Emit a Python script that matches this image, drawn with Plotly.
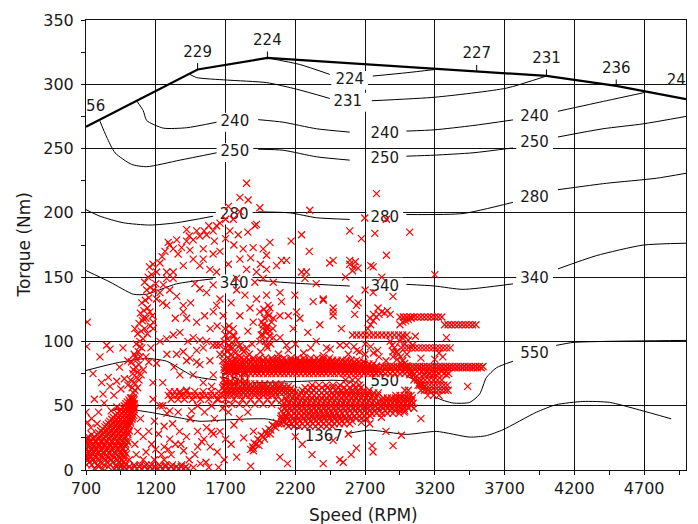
import plotly.graph_objects as go
import numpy as np

# ---------------- axes ----------------
X_TICKS = [700, 1200, 1700, 2200, 2700, 3200, 3700, 4200, 4700]
Y_TICKS = [0, 50, 100, 150, 200, 250, 300, 350]
X_RANGE = [700, 5000]
Y_RANGE = [0, 350]

# ---------------- full-load torque curve ----------------
WOT_SPEED = [700, 1500, 2000, 4000, 4500, 5000]
WOT_TORQUE = [267, 311.5, 320.5, 306.5, 298.7, 288.5]
WOT_LABEL_SPEED = [735, 1500, 2000, 3500, 4000, 4500, 4965]
WOT_LABEL_TEXT = ["256", "229", "224", "227", "231", "236", "241"]
WOT_TICK_SPEED = [1500, 2000, 3500, 4000, 4500]

# ---------------- BSFC contour lines (segments between labels) ----------------
BSFC_224 = [[(2000, 320.5), (2232, 315.4), (2447, 307.7)],
            [(2755, 306.4), (3000, 309), (3199, 311.5)]]
BSFC_231 = [[(1445, 307.7), (1493, 305.2), (1707, 303.3), (1994, 301.3), (2209, 296.2), (2447, 289)],
            [(2748, 287.2), (3206, 290), (3713, 297), (3999, 306.4)]]
BSFC_240 = [[(1063, 287.2), (1110, 279.5), (1135, 271.8), (1254, 265.9), (1421, 266.2), (1636, 270.5)],
            [(1934, 272.5), (2113, 270.5), (2352, 265.4), (2590, 262.8)],
            [(2996, 263.6), (3199, 264.6), (3473, 267.9), (3760, 272.3)],
            [(4082, 279), (4429, 287.2), (4703, 293.6)]]
BSFC_250 = [[(800, 271.3), (848, 259), (908, 246.7), (1027, 237.7), (1135, 235.9), (1373, 241), (1636, 246.7)],
            [(1934, 249.5), (2113, 248.7), (2352, 243.6), (2590, 241)],
            [(2996, 244.1), (3199, 244.9), (3473, 246.7), (3760, 250.5)],
            [(4082, 259), (4405, 265.4), (4691, 269.2), (5000, 275)]]
BSFC_280 = [[(700, 202.5), (800, 197.4), (967, 192.3), (1158, 190.5), (1349, 192.3), (1611, 197.4)],
            [(1934, 200.8), (2161, 200), (2352, 196.2), (2590, 194.9)],
            [(2996, 198.7), (3402, 199.5), (3760, 208.2)],
            [(4082, 218), (4429, 223), (4787, 226.9), (5000, 230.8)]]
BSFC_340 = [[(700, 155.1), (872, 146.2), (1039, 136.7), (1135, 136.7), (1349, 144.8), (1611, 148.7)],
            [(1934, 147.5), (2184, 145.4), (2590, 143.1)],
            [(2996, 144.4), (3199, 143.1), (3402, 140.5), (3760, 144.8)],
            [(4082, 156.4), (4357, 166.7), (4691, 174.9), (5000, 176.4)]]
BSFC_550 = [[(700, 77.4), (920, 83.3), (1135, 86.7), (1278, 84.6), (1468, 73.1), (1636, 70)],
            [(1898, 67.9), (2184, 68.7), (2471, 69.8), (2614, 69)],
            [(2996, 73.1), (3115, 66.7), (3211, 56.4), (3330, 52.1), (3450, 52.6), (3521, 59),
             (3569, 71.8), (3641, 79.5), (3760, 84.6)],
            [(4070, 96.9), (4190, 99.2), (4405, 100), (5000, 100.8)]]
BSFC_1367 = [[(872, 46.2), (967, 47.5), (1158, 44.9), (1373, 40.5), (1516, 37.9), (1707, 39),
              (1994, 39.7), (2137, 35.9), (2232, 32)],
             [(2567, 28.2), (2734, 31), (2996, 27.7), (3211, 30), (3450, 25.6), (3569, 26.7),
              (3688, 31.3), (3927, 44.9), (4070, 50.8), (4261, 53.3), (4452, 52.6), (4667, 46.7), (4894, 39.8)]]

BSFC_LABEL_TEXT = ["224", "231",
                   "240", "240", "240",
                   "250", "250", "250",
                   "280", "280", "280",
                   "340", "340", "340",
                   "550", "550", "550",
                   "1367"]
BSFC_LABEL_SPEED = [2590, 2576,
                    1767, 2841, 3915,
                    1767, 2841, 3915,
                    1762, 2841, 3915,
                    1762, 2841, 3915,
                    1767, 2841, 3915,
                    2404]
BSFC_LABEL_TORQUE = [303, 286,
                     270.5, 261.5, 274.4,
                     246.9, 241.5, 253.8,
                     198.2, 195.6, 211,
                     144.8, 142.3, 148.7,
                     68.7, 67.9, 89.8,
                     25.1]

# ---------------- measured operating points ----------------
IDLE_ROWS = [
    (1, [760, 820, 905, 935, 962, 990, 1030, 1065, 1100, 1140, 1175, 1215, 1250, 1290, 1330, 1365, 1400, 1430]),
    (2.5, [790, 860, 918, 948, 975, 1010, 1048, 1082, 1120, 1158, 1195, 1232, 1270, 1310, 1348, 1382, 1415]),
    (4, [705, 742, 783, 830, 872, 915, 952, 985, 1045, 1090, 1130, 1170, 1225, 1270, 1320, 1385]),
    (6, [722, 762, 805, 850, 893, 935, 968]),
    (8, [715, 752, 795, 840, 880, 925, 958, 1010, 1110, 1190, 1260]),
    (9.5, [700, 732, 772, 818, 860, 902, 942, 975]),
    (11, [700, 730, 765, 805, 850, 890, 935, 970]),
    (12.5, [715, 748, 785, 828, 870, 912, 952, 990]),
    (14, [720, 755, 790, 825, 865, 905, 945, 980]),
    (15.5, [700, 738, 772, 808, 845, 885, 925, 962]),
    (17, [700, 740, 775, 815, 855, 895, 930, 965]),
    (18.5, [720, 758, 795, 835, 875, 912, 948, 982]),
    (20, [715, 750, 790, 830, 870, 910, 950, 985]),
    (21.5, [700, 732, 770, 810, 850, 890, 930, 968, 1000]),
    (23, [700, 730, 770, 810, 845, 885, 925, 960, 995]),
    (24.5, [712, 750, 790, 828, 865, 905, 942, 978]),
    (26, [715, 760, 800, 840, 875, 915, 950, 985]),
    (27.5, [740, 780, 820, 858, 895, 932, 968, 1000]),
    (29, [790, 830, 865, 900, 935, 970, 1000]),
    (30.5, [805, 845, 882, 918, 952, 985, 1010]),
    (32, [820, 855, 890, 925, 960, 995]),
    (33.5, [835, 872, 908, 942, 975, 1005]),
    (35, [845, 880, 915, 945, 980, 1010]),
    (36.5, [860, 895, 930, 962, 995, 1020]),
    (38, [870, 905, 935, 965, 995, 1020]),
    (39.5, [885, 920, 950, 980, 1008, 1030]),
    (41, [895, 930, 960, 990, 1015, 1035]),
    (42.5, [912, 945, 975, 1002, 1025, 1042]),
    (44, [925, 955, 985, 1010, 1030]),
    (45.5, [940, 970, 998, 1020, 1040]),
    (47, [950, 980, 1005, 1025, 1045]),
    (48.5, [962, 992, 1015, 1035, 1050]),
    (50, [975, 1000, 1020, 1040]),
    (51.5, [985, 1010, 1030, 1048]),
    (53, [995, 1015, 1035]),
    (54.5, [1008, 1028, 1045]),
    (56, [1020, 1040]),
]

SPARSE_LOW = [(705, 96), (848, 97), (872, 94), (812, 68), (872, 65), (920, 69), (822, 59), (920, 49), (709, 115),
              (760, 55), (790, 45), (740, 40), (780, 36), (700, 45), (830, 52), (860, 72), (750, 75), (880, 46),
              (900, 58), (950, 63), (975, 71), (940, 80), (1000, 85), (965, 95), (800, 88), (735, 33), (710, 37),
              (1060, 12), (1050, 20), (1070, 30), (1130, 14), (1170, 20), (1200, 16), (1240, 12), (1090, 40),
              (1110, 26), (1150, 30), (1190, 38), (1220, 28), (1260, 34), (1300, 24), (1280, 44), (1340, 20),
              (1320, 36), (1370, 30), (1400, 15), (1420, 26), (1450, 40), (1480, 12), (1500, 30), (1530, 22),
              (1560, 6), (1590, 18), (1620, 40), (1640, 14), (1660, 30), (1690, 8), (1700, 24), (1720, 45),
              (1740, 20), (1760, 35), (1780, 10), (1800, 40), (1830, 25), (1860, 45), (1880, 3), (1900, 30),
              (1440, 8), (1470, 2), (1360, 45), (1230, 50), (1180, 55), (1290, 16), (1310, 12), (1260, 18),
              (1380, 20), (1500, 18), (1545, 24), (1600, 30), (1650, 2), (1580, 2), (1520, 5),
              (1206, 83), (1445, 87), (1493, 84), (1397, 92), (1564, 100), (1373, 74), (1612, 74), (1636, 97),
              (1349, 90), (1421, 85), (1468, 74), (1516, 82), (1540, 95), (1493, 93), (1588, 85), (1660, 90),
              (1421, 62), (1373, 60), (1457, 46), (1445, 40), (1564, 33), (1612, 28), (1250, 68), (1280, 90),
              (1330, 80), (1230, 100), (1180, 68), (1250, 50), (1300, 46), (1500, 50), (1550, 45), (1600, 50),
              (1650, 55), (1680, 48), (1540, 68), (1600, 65), (1680, 64)]

COLUMN_PTS = [(1010, 50), (1025, 56), (1040, 60), (1030, 64), (1050, 62), (1045, 68), (1060, 72), (1035, 75),
              (1070, 76), (1055, 80), (1080, 82), (1065, 86), (1090, 88), (1045, 90), (1075, 92), (1100, 95),
              (1060, 98), (1085, 100), (1110, 102), (1070, 106), (1095, 108), (1120, 110), (1080, 114),
              (1105, 116), (1130, 118), (1090, 122), (1115, 124), (1140, 126), (1100, 130), (1125, 132),
              (1150, 134), (1135, 140), (1160, 142), (1120, 146), (1145, 150), (1170, 152), (1155, 158),
              (1180, 160), (1165, 95), (1130, 88), (1150, 84), (1020, 70), (1000, 66), (1110, 78), (1025, 84),
              (1140, 106), (1160, 112), (1050, 110), (1175, 120), (1185, 140), (1040, 78), (1055, 88),
              (1080, 70), (1095, 74), (1070, 64), (1085, 96)]

ARCH_PTS = [(1230, 161), (1266, 170), (1325, 172), (1385, 173), (1421, 178), (1468, 179), (1516, 182),
            (1564, 183), (1611, 186), (1636, 190), (1660, 192), (1421, 187), (1493, 186), (1547, 186),
            (1289, 177), (1350, 179), (1206, 154), (1278, 154), (1278, 149), (1325, 149), (1254, 144),
            (1230, 138), (1206, 133), (1325, 154), (1397, 159), (1468, 164), (1540, 164), (1611, 168),
            (1516, 159), (1588, 156), (1636, 154), (1540, 172), (1445, 171), (1158, 123), (1182, 115),
            (1182, 110), (1110, 118), (1278, 128), (1397, 128), (1397, 123), (1421, 118), (1493, 115),
            (1612, 123), (1636, 128), (1564, 138), (1516, 141), (1611, 144), (1660, 133), (1683, 120),
            (1325, 105), (1373, 107), (1278, 102), (1516, 101), (1611, 97), (1660, 97), (1468, 103),
            (1245, 166), (1300, 175), (1360, 168), (1440, 182), (1580, 190), (1620, 178), (1660, 170),
            (1700, 180), (1250, 130), (1300, 140), (1350, 135), (1450, 130), (1480, 145), (1550, 120),
            (1590, 110), (1640, 112), (1200, 145), (1340, 118), (1430, 100)]

MID_PTS = [(1851, 223), (1803, 212), (1862, 210), (1946, 204), (1803, 201), (1755, 195), (1731, 186),
           (1791, 183), (1910, 190), (1922, 191), (1826, 172), (1898, 173), (1970, 172), (2018, 177),
           (1994, 167), (1803, 164), (1851, 156), (1922, 154), (1994, 156), (2066, 159), (2101, 163),
           (1779, 149), (1910, 146), (1970, 149), (2042, 146), (1839, 136), (1922, 133), (1994, 136),
           (2090, 138), (2101, 131), (1875, 126), (1946, 123), (2018, 126), (2090, 120), (1898, 115),
           (1970, 113), (2042, 118), (1994, 110), (2018, 108), (1970, 105), (2042, 103), (1946, 100),
           (2090, 103), (1994, 97), (1803, 120), (1755, 105), (1803, 97), (1731, 95), (1755, 110),
           (1960, 115), (1980, 118), (2000, 112), (2010, 120), (2030, 115), (1990, 108), (2015, 104),
           (1975, 125), (2005, 128), (2040, 110), (1955, 105), (2025, 98), (1985, 100), (2000, 122),
           (1965, 110), (1720, 160), (1760, 175), (1860, 185), (1880, 165), (1950, 160), (1740, 130),
           (1780, 140), (1860, 108), (1890, 98), (1720, 205), (1700, 195)]

UPPER_PTS = [(2137, 163), (2245, 183), (2304, 202), (2245, 154), (2269, 149), (2197, 136), (2209, 123),
             (2233, 118), (2185, 110), (2137, 97), (2328, 131), (2400, 133), (2447, 161), (2471, 163),
             (2471, 126), (2471, 120), (2376, 113), (2424, 95), (2567, 97), (2782, 215), (2590, 186),
             (2674, 180), (2770, 184), (3020, 185), (2853, 167), (2758, 158), (2590, 163), (2590, 160),
             (2620, 158), (2650, 157), (3200, 152), (2698, 196), (2853, 195), (2590, 133), (2650, 130),
             (2626, 121), (2758, 138), (2793, 126), (2280, 154), (2400, 132), (2471, 123), (2638, 128),
             (2741, 159), (2610, 155), (2630, 162), (2560, 150), (2170, 178), (2300, 170), (2350, 145),
             (2150, 120), (2290, 107), (2530, 110), (2700, 140), (2820, 150), (2900, 135)]

BAND_A_ROWS = [
    (75, [1700, 1730, 1762, 1790, 1822, 1850, 1880, 1912, 1940, 1970, 2002, 2030, 2060, 2092, 2120, 2150, 2182,
          2210, 2240, 2272, 2300, 2330, 2362, 2390, 2420, 2452, 2480, 2510, 2542, 2570, 2600, 2632, 2660, 2690,
          2722, 2750, 2780, 2810, 2845, 2880, 2915, 2950, 2985, 3020, 3055, 3090, 3125, 3160, 3195, 3230, 3265, 3300]),
    (76.5, [1715, 1745, 1778, 1805, 1838, 1865, 1898, 1925, 1955, 1988, 2015, 2048, 2075, 2108, 2135, 2165, 2198,
            2225, 2258, 2285, 2318, 2345, 2378, 2405, 2438, 2465, 2498, 2525, 2558, 2585, 2618, 2645, 2678, 2705,
            2738, 2765, 2795, 2828, 2862, 2898, 2932, 2968, 3002, 3038, 3072, 3108, 3142, 3178, 3212, 3248, 3282]),
    (78, [1690, 1718, 1745, 1776, 1805, 1835, 1865, 1895, 1925, 1955, 1985, 2015, 2045, 2075, 2105, 2135, 2165,
          2195, 2225, 2255, 2285, 2315, 2345, 2375, 2405, 2435, 2465, 2495, 2525, 2555, 2585, 2615, 2645, 2675,
          2705, 2735, 2765, 2795]),
    (79.5, [1705, 1732, 1760, 1790, 1820, 1850, 1880, 1910, 1940, 1970, 2000, 2030, 2060, 2090, 2120, 2150, 2180,
            2210, 2240, 2270, 2300, 2330, 2360, 2390, 2420, 2450, 2480, 2510, 2540, 2570, 2600, 2630, 2660, 2690,
            2720, 2750, 2780, 2810, 2838, 2865, 2892, 2918, 2945, 2972, 2998, 3025, 3052, 3078, 3105, 3132, 3158,
            3185, 3212, 3238, 3265, 3292, 3318, 3345, 3372, 3398, 3425, 3452, 3478, 3505, 3532]),
    (80.5, [2825, 2850, 2878, 2905, 2930, 2958, 2985, 3010, 3038, 3065, 3090, 3118, 3145, 3170, 3198, 3225, 3250,
            3278, 3305, 3330, 3358, 3385, 3410, 3438, 3465, 3490, 3518, 3545]),
    (81, [1700, 1732, 1760, 1792, 1820, 1850, 1882, 1910, 1940, 1972, 2000, 2030, 2062, 2090, 2120, 2152, 2180,
          2210, 2242, 2270, 2300, 2332, 2360, 2390, 2422, 2450, 2480, 2512, 2540, 2570, 2602, 2630, 2660, 2692,
          2720, 2750, 2782]),
    (82.5, [1710, 1745, 1775, 1805, 1838, 1868, 1898, 1928, 1958, 1990, 2020, 2050, 2082, 2112, 2142, 2175, 2205,
            2235, 2265, 2298, 2328, 2358, 2390, 2420, 2450, 2482, 2512, 2542, 2575, 2605, 2635, 2668, 2698, 2728,
            2760]),
    (84, [1715, 1748, 1780, 1812, 1845, 1878, 1910, 1942, 1975, 2008, 2040, 2072, 2105, 2138, 2170, 2202, 2235,
          2268, 2300, 2332, 2365, 2398, 2430, 2462, 2495, 2528, 2560, 2592, 2625, 2658, 2690]),
    (85.5, [1730, 1768, 1800, 1835, 1868, 1900, 1935, 1968, 2000, 2035, 2068, 2100, 2135, 2168, 2200, 2235, 2268,
            2300, 2335, 2368, 2400, 2435, 2468, 2500, 2535, 2568, 2600, 2640]),
    (87, [1720, 1765, 1810, 1850, 1898, 1940, 1985, 2030, 2075, 2120, 2170, 2215, 2260, 2310, 2355, 2400, 2445]),
]

COL_1700_PTS = [(1690, 90), (1712, 92), (1740, 90), (1770, 91), (1800, 89), (1830, 92), (1700, 95), (1725, 97),
                (1752, 95), (1790, 96), (1820, 94), (1690, 100), (1715, 102), (1745, 99), (1780, 101),
                (1700, 105), (1730, 107), (1760, 104), (1695, 110), (1725, 112), (1850, 95), (1870, 90),
                (1680, 85), (1690, 80), (1685, 70), (1690, 62), (1950, 92), (2000, 95), (2080, 90), (2150, 93),
                (2200, 98), (2260, 91), (2310, 95), (2350, 100), (2400, 89), (2450, 94), (2520, 97), (2580, 90),
                (2640, 93), (2700, 98), (2760, 91)]

BAND_B_ROWS = [
    (60.5, [1712, 1742, 1770, 1800, 1830, 1858, 1888, 1915, 1945, 1972, 2002, 2030, 2060, 2088, 2118, 2145, 2175]),
    (62, [1700, 1728, 1757, 1785, 1815, 1843, 1872, 1900, 1930, 1958, 1987, 2015, 2045, 2073, 2102, 2130, 2160, 2188]),
    (63.5, [1705, 1735, 1763, 1792, 1822, 1850, 1880, 1908, 1938, 1965, 1995, 2023, 2052, 2080, 2110, 2138, 2168]),
    (65, [1690, 1718, 1747, 1776, 1805, 1833, 1862, 1891, 1920, 1948, 1977, 2006, 2035, 2063, 2092, 2121, 2150]),
    (67, [1700, 1730, 1760, 1790, 1820, 1850, 1880, 1910, 1945, 1980, 2020, 2060, 2100]),
    (69, [1700, 1735, 1770, 1805, 1840]),
]

BAND_C_ROWS = [
    (58, [1290, 1320, 1352, 1380, 1412, 1440, 1472, 1500, 1532, 1560, 1592, 1620, 1652, 1680, 1712, 1745, 1778,
          1810, 1842, 1875, 1908, 1940, 1972, 2005, 2038, 2070]),
    (55, [1310, 1360, 1405, 1462, 1520, 1580, 1640, 1700, 1760, 1820, 1880, 1940, 2000, 2060]),
    (61, [1300, 1335, 1372, 1420, 1480, 1540, 1598, 1650]),
    (51, [1700, 1745, 1800, 1850, 1910, 1970, 2030]),
]

BLOB_D_ROWS = [
    (34, [2150, 2190, 2228, 2268, 2305, 2345, 2385, 2425, 2465]),
    (36, [2135, 2172, 2210, 2250, 2288, 2325, 2365, 2402, 2440, 2480, 2515, 2550, 2590]),
    (38, [2120, 2158, 2195, 2232, 2270, 2308, 2345, 2382, 2420, 2458, 2495, 2532, 2570, 2608]),
    (40, [2110, 2148, 2185, 2222, 2260, 2298, 2335, 2372, 2410, 2448, 2485, 2522, 2560, 2598, 2635, 2672, 2710]),
    (42, [2100, 2137, 2175, 2212, 2250, 2287, 2325, 2362, 2400, 2437, 2475, 2512, 2550, 2587, 2625, 2662, 2700, 2737]),
    (44, [2118, 2152, 2188, 2222, 2258, 2292, 2328, 2362, 2398, 2432, 2468, 2502, 2538, 2572, 2608, 2642, 2678,
          2712, 2748, 2782]),
    (46, [2100, 2135, 2170, 2205, 2240, 2275, 2310, 2345, 2380, 2415, 2450, 2485, 2520, 2555, 2590, 2625, 2660,
          2695, 2730, 2765, 2800]),
    (48, [2128, 2162, 2198, 2232, 2268, 2302, 2338, 2372, 2408, 2442, 2478, 2512, 2548, 2582, 2618, 2652, 2688,
          2722, 2758, 2792]),
    (50, [2110, 2145, 2180, 2215, 2250, 2285, 2320, 2355, 2390, 2425, 2460, 2495, 2530, 2565, 2600, 2635, 2670,
          2705, 2740, 2775, 2810]),
    (52, [2118, 2152, 2188, 2222, 2258, 2292, 2328, 2362, 2398, 2432, 2468, 2502, 2538, 2572, 2608, 2642, 2678,
          2712, 2748, 2782]),
    (54, [2100, 2135, 2170, 2205, 2240, 2275, 2310, 2345, 2380, 2415, 2450, 2485, 2520, 2555, 2590, 2625, 2660,
          2695, 2730, 2765, 2800]),
    (56, [2130, 2178, 2212, 2248, 2282, 2318, 2352, 2388, 2422, 2458, 2492, 2528, 2562, 2598, 2632, 2668, 2702,
          2738, 2772]),
    (58, [2160, 2195, 2230, 2265, 2300, 2335, 2370, 2405, 2440, 2475, 2510, 2545, 2580, 2615, 2650, 2685, 2720,
          2755, 2790]),
    (60, [2200, 2240, 2280, 2318, 2352, 2390, 2428, 2465, 2500, 2538, 2575, 2612, 2650, 2688, 2725, 2762, 2795]),
    (62, [2250, 2290, 2330, 2370, 2410, 2450, 2490, 2530, 2570, 2610, 2650, 2690, 2730]),
    (64, [2270, 2310, 2350, 2390, 2430, 2470, 2510, 2550, 2590, 2630, 2670]),
    (66, [2320, 2370, 2420, 2470, 2520, 2570, 2620, 2660]),
    (70, [2560, 2610, 2650]),
]

BAND_E_ROWS = [
    (44, [2820, 2860, 2900, 2945]),
    (46, [2845, 2880, 2915, 2950, 2985]),
    (48, [2830, 2860, 2890, 2920, 2950, 2980, 3010]),
    (50, [2820, 2850, 2880, 2910, 2940, 2970, 3000, 3030]),
    (52, [2840, 2870, 2900, 2930, 2960, 2990, 3020, 3045]),
    (54, [2825, 2855, 2885, 2915, 2945, 2975, 3005, 3035]),
    (56, [2830, 2860, 2890, 2920, 2950, 2980, 3010, 3040]),
    (58, [2920, 2950, 2980, 3010, 3030]),
    (62, [2985, 3010]),
]

STREAK_PTS = [(1880, 16), (1895, 18), (1905, 21), (1920, 20), (1930, 24), (1945, 23), (1955, 27), (1970, 26),
              (1985, 30), (1995, 28), (2010, 32), (2025, 31), (2035, 35), (2050, 34), (2065, 37), (2080, 36),
              (2095, 40), (2110, 39), (2125, 42), (2140, 41), (1900, 15), (1940, 19), (1980, 24), (2020, 28),
              (2060, 33), (2100, 36)]

CLUSTER_G_PTS = [(2880, 100), (2895, 97), (2910, 95), (2925, 92), (2940, 90), (2955, 88), (2970, 85), (2985, 83),
                 (3000, 81), (3015, 78), (3030, 76), (3045, 74), (3060, 72), (3075, 70), (3090, 68), (3105, 66),
                 (3120, 64), (2900, 92), (2930, 86), (2960, 82), (2990, 78), (3020, 74), (3050, 70), (3080, 66)]

CLUSTER_G_ROWS = [
    (62, [3100, 3125, 3150, 3175, 3200, 3225, 3250, 3275, 3295]),
    (66, [3090, 3115, 3140, 3165, 3190, 3215, 3240, 3265, 3290]),
    (70, [3100, 3130, 3160, 3190, 3220, 3250]),
    (74, [3120, 3150, 3180, 3210]),
    (58, [3150, 3190, 3230]),
]

ROWS_H = [
    (95, [2960, 2985, 3010, 3035, 3060, 3085, 3110, 3135, 3160, 3185, 3210, 3235, 3260, 3285, 3310]),
    (105, [2610, 2640, 2670, 2700, 2730, 2760, 2790, 2820, 2850, 2880, 2910, 2940, 2970, 3000]),
    (119, [2950, 2975, 3000, 3025, 3050, 3075, 3100, 3125, 3150, 3175, 3200, 3225, 3250]),
    (113, [3270, 3295, 3320, 3345, 3370, 3395, 3420, 3445, 3470, 3495]),
]

EXTRA_H_PTS = [(2720, 110), (2740, 113), (2760, 116), (2780, 119), (2800, 121), (2820, 123), (2840, 122),
               (2860, 124), (2880, 121), (2735, 118), (2760, 121), (2950, 113), (2970, 115), (2990, 116),
               (3010, 117), (3030, 118), (2950, 100), (2965, 103), (2985, 98), (3010, 101), (3040, 97),
               (3060, 104), (3283, 103), (3435, 65), (3257, 88), (3283, 74), (2800, 88), (2850, 85), (2900, 88),
               (3000, 90), (3100, 87), (3200, 86), (3230, 91), (2620, 96), (2660, 92), (2700, 90), (2740, 96),
               (2790, 93)]

SPARSE_RIGHT = [(2757, 14), (2900, 19), (2960, 27), (2750, 19), (2674, 37), (2733, 36), (2817, 41), (2543, 6),
                (1898, 17), (2090, 10), (2144, 5), (2519, 8), (2638, 17), (2471, 23), (2400, 5), (2320, 12),
                (2250, 20), (2200, 26), (2580, 28), (2850, 30), (2980, 45), (3050, 48), (3100, 40), (2920, 55),
                (2600, 12)]


# ---------------- helpers ----------------
def seg_xy(segments):
    xs, ys = [], []
    for seg in segments:
        for s, t in seg:
            xs.append(s)
            ys.append(t)
        xs.append(None)
        ys.append(None)
    return xs, ys


def rows_xy(rows):
    xs, ys = [], []
    for t, speeds in rows:
        for s in speeds:
            xs.append(s)
            ys.append(t)
    return xs, ys


def pts_xy(pts):
    return [p[0] for p in pts], [p[1] for p in pts]


PX_PER_RPM = 601 / (X_RANGE[1] - X_RANGE[0])
PX_PER_NM = 454 / (Y_RANGE[1] - Y_RANGE[0])
FONT = "DejaVu Sans"
TXT = "#1a1a1a"

fig = go.Figure()

# contour lines
for segs in [BSFC_224, BSFC_231, BSFC_240, BSFC_250, BSFC_280, BSFC_340, BSFC_550, BSFC_1367]:
    xs, ys = seg_xy(segs)
    fig.add_trace(go.Scatter(x=xs, y=ys, mode="lines",
                             line=dict(color="black", width=1, shape="spline", smoothing=0.6),
                             hoverinfo="skip"))

# full-load curve
fig.add_trace(go.Scatter(x=WOT_SPEED, y=WOT_TORQUE, mode="lines",
                         line=dict(color="black", width=2.2), hoverinfo="skip"))

# small ticks on full load curve
tx, ty = [], []
for s in WOT_TICK_SPEED:
    v = float(np.interp(s, WOT_SPEED, WOT_TORQUE))
    tx += [s, s, None]
    ty += [v, v + 5, None]
fig.add_trace(go.Scatter(x=tx, y=ty, mode="lines", line=dict(color="black", width=1), hoverinfo="skip"))

# labels on full-load curve
wot_label_y = [float(np.interp(s, WOT_SPEED, WOT_TORQUE)) + 13 for s in WOT_LABEL_SPEED]
fig.add_trace(go.Scatter(x=WOT_LABEL_SPEED, y=wot_label_y, mode="text", text=WOT_LABEL_TEXT,
                         textfont=dict(family=FONT, size=15, color=TXT), cliponaxis=True,
                         hoverinfo="skip"))

# white boxes behind contour labels
shapes = []
for txt, s, t in zip(BSFC_LABEL_TEXT, BSFC_LABEL_SPEED, BSFC_LABEL_TORQUE):
    w = (len(txt) * 9.6 + 8) / PX_PER_RPM
    h = 19 / PX_PER_NM
    shapes.append(dict(type="rect", xref="x", yref="y", layer="between",
                       x0=s - w / 2, x1=s + w / 2, y0=t - h / 2, y1=t + h / 2,
                       fillcolor="white", line=dict(width=0)))

fig.add_trace(go.Scatter(x=BSFC_LABEL_SPEED, y=BSFC_LABEL_TORQUE, mode="text", text=BSFC_LABEL_TEXT,
                         textfont=dict(family=FONT, size=15, color=TXT), cliponaxis=True,
                         hoverinfo="skip"))

# operating points
SX, SY = [], []
for rows in [IDLE_ROWS, BAND_A_ROWS, BAND_B_ROWS, BAND_C_ROWS, BLOB_D_ROWS, BAND_E_ROWS, CLUSTER_G_ROWS, ROWS_H]:
    a, b = rows_xy(rows)
    SX += a
    SY += b
for pts in [SPARSE_LOW, COLUMN_PTS, ARCH_PTS, MID_PTS, UPPER_PTS, COL_1700_PTS, STREAK_PTS, CLUSTER_G_PTS,
            EXTRA_H_PTS, SPARSE_RIGHT]:
    a, b = pts_xy(pts)
    SX += a
    SY += b

fig.add_trace(go.Scatter(x=SX, y=SY, mode="markers", cliponaxis=True,
                         marker=dict(symbol="x-thin", size=7, color="#ff0000",
                                     line=dict(color="#ff0000", width=1.2)),
                         hoverinfo="skip"))

axis_common = dict(showgrid=True, gridcolor="#111111", gridwidth=1, zeroline=False,
                   showline=True, linecolor="#111111", linewidth=1, mirror=True,
                   ticks="outside", ticklen=4, tickcolor="#111111",
                   tickfont=dict(family=FONT, size=16, color=TXT))

fig.update_xaxes(range=X_RANGE, tickmode="array", tickvals=X_TICKS, ticktext=[str(v) for v in X_TICKS],
                 minor=dict(tickmode="linear", tick0=950, dtick=500, ticks="outside", ticklen=4,
                            tickcolor="#111111", showgrid=False),
                 **axis_common)
fig.update_yaxes(range=Y_RANGE, tickmode="array", tickvals=Y_TICKS, ticktext=[str(v) for v in Y_TICKS],
                 minor=dict(tickmode="linear", tick0=25, dtick=50, ticks="outside", ticklen=4,
                            tickcolor="#111111", showgrid=False),
                 ticklabelstandoff=4,
                 **axis_common)

fig.update_layout(
    width=698, height=524,
    margin=dict(l=86, r=11, t=16, b=54),
    paper_bgcolor="white", plot_bgcolor="white",
    showlegend=False,
    shapes=shapes,
    annotations=[
        dict(text="Speed (RPM)", xref="paper", yref="paper", x=0.4626, y=-0.099,
             xanchor="center", yanchor="middle", showarrow=False,
             font=dict(family=FONT, size=17, color=TXT)),
        dict(text="Torque (Nm)", xref="paper", yref="paper", x=-0.104, y=0.5,
             xanchor="center", yanchor="middle", showarrow=False, textangle=-90,
             font=dict(family=FONT, size=17, color=TXT)),
    ],
)

fig.write_html("out.html")
